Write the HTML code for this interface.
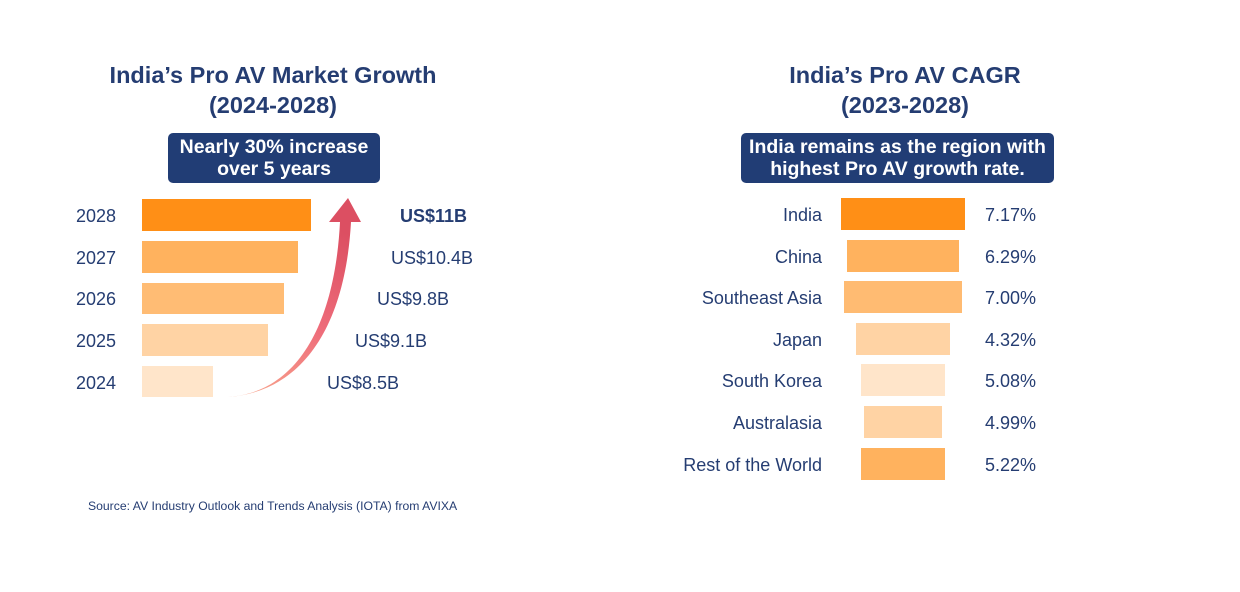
<!DOCTYPE html>
<html><head><style>
body{margin:0;width:1240px;height:592px;background:#fff;position:relative;font-family:"Liberation Sans",sans-serif;color:#253D72;overflow:hidden}
.a{position:absolute;white-space:nowrap}
.t{font-size:23.5px;font-weight:bold;text-align:center;line-height:30px}
.box{background:#213D75;color:#fff;border-radius:5px;font-weight:bold;font-size:19.5px;line-height:22px;text-align:center;padding-top:3px;box-sizing:border-box}
.l{font-size:18px;line-height:20px}
.b{position:absolute}
.r{text-align:right;width:200px}
</style></head><body>
<div class="a t" style="left:73px;width:400px;top:60px">India’s Pro AV Market Growth<br>(2024-2028)</div>
<div class="a t" style="left:705px;width:400px;top:60px">India’s Pro AV CAGR<br>(2023-2028)</div>
<div class="a box" style="left:168px;top:133px;width:212px;height:50px">Nearly 30% increase<br>over 5 years</div>
<div class="a box" style="left:741px;top:133px;width:313px;height:50px">India remains as the region with<br>highest Pro AV growth rate.</div>

<div class="b" style="left:142px;top:199px;width:169px;height:32px;background:#FF8F16"></div>
<div class="b" style="left:142px;top:241px;width:156px;height:32px;background:#FFB25E"></div>
<div class="b" style="left:142px;top:283px;width:142px;height:31px;background:#FFBC74"></div>
<div class="b" style="left:142px;top:324px;width:126px;height:32px;background:#FFD3A4"></div>
<div class="b" style="left:142px;top:366px;width:71px;height:31px;background:#FFE5CA"></div>

<div class="a l" style="left:76px;top:206px">2028</div>
<div class="a l" style="left:76px;top:248px">2027</div>
<div class="a l" style="left:76px;top:289px">2026</div>
<div class="a l" style="left:76px;top:331px">2025</div>
<div class="a l" style="left:76px;top:373px">2024</div>
<div class="a l" style="left:400px;top:206px;font-weight:bold">US$11B</div>
<div class="a l" style="left:391px;top:248px">US$10.4B</div>
<div class="a l" style="left:377px;top:289px">US$9.8B</div>
<div class="a l" style="left:355px;top:331px">US$9.1B</div>
<div class="a l" style="left:327px;top:373px">US$8.5B</div>

<svg class="b" style="left:0;top:0" width="1240" height="592">
<defs><linearGradient id="g" x1="0" y1="1" x2="0.3" y2="0"><stop offset="0" stop-color="#F9A98E"/><stop offset="0.5" stop-color="#EE6C7A"/><stop offset="1" stop-color="#DC4F62"/></linearGradient></defs>
<path d="M228,397 C300,392 335,320 340,222 L329,222 L348,198 L361,222 L351,222 C345,330 300,392 228,397 Z" fill="url(#g)"/>
</svg>

<div class="b" style="left:841px;top:198px;width:124px;height:32px;background:#FF8F16"></div>
<div class="b" style="left:847px;top:240px;width:112px;height:32px;background:#FFB25E"></div>
<div class="b" style="left:844px;top:281px;width:118px;height:32px;background:#FFBB72"></div>
<div class="b" style="left:856px;top:323px;width:94px;height:32px;background:#FFD3A4"></div>
<div class="b" style="left:861px;top:364px;width:84px;height:32px;background:#FFE5CA"></div>
<div class="b" style="left:864px;top:406px;width:78px;height:32px;background:#FFD3A4"></div>
<div class="b" style="left:861px;top:448px;width:84px;height:32px;background:#FFB25E"></div>

<div class="a l r" style="left:622px;top:205px">India</div>
<div class="a l r" style="left:622px;top:247px">China</div>
<div class="a l r" style="left:622px;top:288px">Southeast Asia</div>
<div class="a l r" style="left:622px;top:330px">Japan</div>
<div class="a l r" style="left:622px;top:371px">South Korea</div>
<div class="a l r" style="left:622px;top:413px">Australasia</div>
<div class="a l r" style="left:622px;top:455px">Rest of the World</div>
<div class="a l" style="left:985px;top:205px">7.17%</div>
<div class="a l" style="left:985px;top:247px">6.29%</div>
<div class="a l" style="left:985px;top:288px">7.00%</div>
<div class="a l" style="left:985px;top:330px">4.32%</div>
<div class="a l" style="left:985px;top:371px">5.08%</div>
<div class="a l" style="left:985px;top:413px">4.99%</div>
<div class="a l" style="left:985px;top:455px">5.22%</div>

<div class="a" style="left:88px;top:499px;font-size:12.2px">Source: AV Industry Outlook and Trends Analysis (IOTA) from AVIXA</div>
</body></html>
